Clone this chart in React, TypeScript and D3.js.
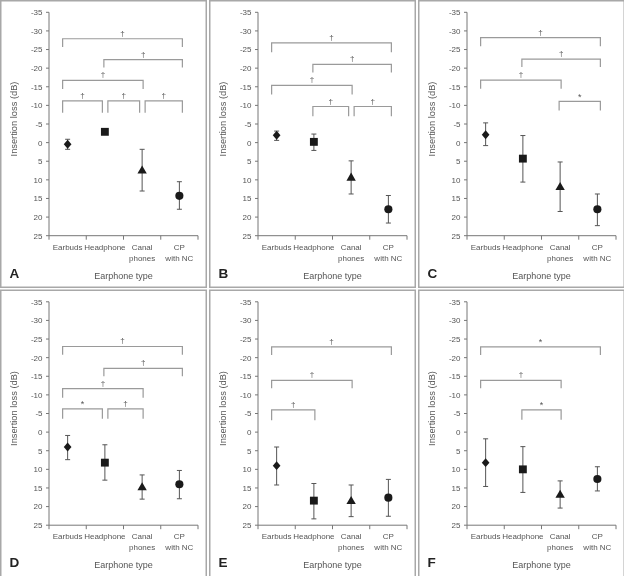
import React from "react";
import * as d3 from "d3";

// ---------- DATA ----------
const categoryLines: string[][] = [["Earbuds"], ["Headphone"], ["Canal", "phones"], ["CP", "with NC"]];
const yTicks = [-35, -30, -25, -20, -15, -10, -5, 0, 5, 10, 15, 20, 25];
const panelLetters = ["A", "B", "C", "D", "E", "F"];
const yTitle = "Insertion loss (dB)";
const xTitle = "Earphone type";

// means, lower and upper whisker ends (dB) for Earbuds, Headphone, Canal phones, CP with NC
const meanA = [0.45, -2.9, 7.6, 14.3];
const lowA = [-0.9, -3.4, 1.8, 10.5];
const highA = [1.8, -2.4, 13.0, 17.9];

const meanB = [-2.0, -0.2, 9.5, 17.9];
const lowB = [-3.1, -2.3, 4.9, 14.2];
const highB = [-0.6, 2.1, 13.8, 21.6];

const meanC = [-2.1, 4.3, 12.0, 17.9];
const lowC = [-5.3, -1.9, 5.2, 13.8];
const highC = [0.8, 10.6, 18.5, 22.3];

const meanD = [4.0, 8.2, 14.9, 14.0];
const lowD = [0.9, 3.4, 11.5, 10.3];
const highD = [7.4, 12.9, 18.0, 17.9];

const meanE = [9.0, 18.4, 18.6, 17.6];
const lowE = [4.0, 13.8, 14.2, 12.7];
const highE = [14.2, 23.3, 22.7, 22.6];

const meanF = [8.2, 10.0, 16.9, 12.6];
const lowF = [1.8, 3.9, 13.1, 9.3];
const highF = [14.6, 16.2, 20.4, 15.8];

type Bracket = { from: number; to: number; y: number; leg: number; mark: string };

const bracketsA: Bracket[] = [
  { from: 0, to: 3, y: -27.9, leg: -25.7, mark: "†" },
  { from: 1, to: 3, y: -22.3, leg: -20.2, mark: "†" },
  { from: 0, to: 2, y: -16.7, leg: -14.4, mark: "†" },
  { from: 0, to: 1, y: -11.2, leg: -8.0, mark: "†" },
  { from: 1, to: 2, y: -11.2, leg: -8.0, mark: "†" },
  { from: 2, to: 3, y: -11.2, leg: -8.0, mark: "†" },
];
const bracketsB: Bracket[] = [
  { from: 0, to: 3, y: -26.8, leg: -24.3, mark: "†" },
  { from: 1, to: 3, y: -21.0, leg: -18.8, mark: "†" },
  { from: 0, to: 2, y: -15.4, leg: -12.9, mark: "†" },
  { from: 1, to: 2, y: -9.7, leg: -7.1, mark: "†" },
  { from: 2, to: 3, y: -9.7, leg: -7.1, mark: "†" },
];
const bracketsC: Bracket[] = [
  { from: 0, to: 3, y: -28.2, leg: -25.9, mark: "†" },
  { from: 1, to: 3, y: -22.4, leg: -20.3, mark: "†" },
  { from: 0, to: 2, y: -16.8, leg: -14.5, mark: "†" },
  { from: 2, to: 3, y: -11.1, leg: -8.6, mark: "*" },
];
const bracketsD: Bracket[] = [
  { from: 0, to: 3, y: -23.0, leg: -20.8, mark: "†" },
  { from: 1, to: 3, y: -17.1, leg: -15.0, mark: "†" },
  { from: 0, to: 2, y: -11.7, leg: -9.2, mark: "†" },
  { from: 0, to: 1, y: -6.25, leg: -3.6, mark: "*" },
  { from: 1, to: 2, y: -6.25, leg: -3.6, mark: "†" },
];
const bracketsE: Bracket[] = [
  { from: 0, to: 3, y: -22.9, leg: -20.7, mark: "†" },
  { from: 0, to: 2, y: -13.9, leg: -11.8, mark: "†" },
  { from: 0, to: 1, y: -6.0, leg: -3.2, mark: "†" },
];
const bracketsF: Bracket[] = [
  { from: 0, to: 3, y: -22.9, leg: -20.7, mark: "*" },
  { from: 0, to: 2, y: -13.9, leg: -11.8, mark: "†" },
  { from: 1, to: 2, y: -6.0, leg: -3.3, mark: "*" },
];

const panels = [
  { mean: meanA, low: lowA, high: highA, brackets: bracketsA },
  { mean: meanB, low: lowB, high: highB, brackets: bracketsB },
  { mean: meanC, low: lowC, high: highC, brackets: bracketsC },
  { mean: meanD, low: lowD, high: highD, brackets: bracketsD },
  { mean: meanE, low: lowE, high: highE, brackets: bracketsE },
  { mean: meanF, low: lowF, high: highF, brackets: bracketsF },
];

// ---------- LAYOUT ----------
const W = 624;
const H = 576;
const colX = [0, 209, 418];
const rowY = [0, 289.5];
const PW = 206;
const PH = 287;
const FONT = "'Liberation Sans', Arial, sans-serif";
const TEXT = "#555";
const AXIS = "#777";
const BRACKET = "#9a9a9a";
const MARK = "#1a1a1a";

const yScale = d3.scaleLinear().domain([-35, 25]).range([12.3, 235.7]);
const xScale = d3.scaleBand<number>().domain([0, 1, 2, 3]).range([49, 198]).padding(0);
const xc = (i: number) => (xScale(i) as number) + xScale.bandwidth() / 2;

const diamondType = {
  draw(ctx: any, size: number) {
    const h = Math.sqrt(size) * 0.62;
    const w = h * 0.86;
    ctx.moveTo(0, -h);
    ctx.lineTo(w, 0);
    ctx.lineTo(0, h);
    ctx.lineTo(-w, 0);
    ctx.closePath();
  },
};
const symbolTypes: any[] = [diamondType, d3.symbolSquare, d3.symbolTriangle, d3.symbolCircle];
const symbolSizes = [52, 62, 38, 52];

function Panel({ idx }: { idx: number }) {
  const p = panels[idx];
  const ox = colX[idx % 3];
  const oy = rowY[Math.floor(idx / 3)];
  const [y0, y1] = yScale.range();
  const bounds = d3.range(5).map((i) => 49 + i * xScale.bandwidth());

  const bracketEls = p.brackets.map((b, k) => {
    const sharedLeft = p.brackets.some((o) => o !== b && o.y === b.y && o.to === b.from);
    const sharedRight = p.brackets.some((o) => o !== b && o.y === b.y && o.from === b.to);
    const x1 = xc(b.from) + (b.from === 0 ? -5 : sharedLeft ? 3 : -1);
    const x2 = xc(b.to) + (b.to === 3 ? 3 : sharedRight ? -2.5 : 1);
    const yl = yScale(b.y);
    const yb = yScale(b.leg);
    return (
      <g key={k}>
        <path
          d={`M${x1},${yb}V${yl}H${x2}V${yb}`}
          fill="none"
          stroke={BRACKET}
          strokeWidth={1.2}
        />
        <text
          x={(x1 + x2) / 2}
          y={yl - (b.mark === "*" ? 1.5 : 3)}
          textAnchor="middle"
          fontSize={b.mark === "*" ? 9 : 8}
          fill={TEXT}
          fontFamily={FONT}
        >
          {b.mark}
        </text>
      </g>
    );
  });

  return (
    <g transform={`translate(${ox},${oy})`}>
      <rect x={0.75} y={0.75} width={PW - 0.5} height={PH - 0.5} fill="#fff" stroke="#a8a8a8" strokeWidth={1.5} />
      {/* y axis */}
      <line x1={49} x2={49} y1={y0} y2={y1} stroke={AXIS} strokeWidth={1} />
      {yTicks.map((t) => (
        <g key={t}>
          <line x1={46} x2={49} y1={yScale(t)} y2={yScale(t)} stroke={AXIS} strokeWidth={1} />
          <text x={42.5} y={yScale(t) + 2.9} textAnchor="end" fontSize={8} fill={TEXT} fontFamily={FONT}>
            {t}
          </text>
        </g>
      ))}
      {/* x axis */}
      <line x1={49} x2={198} y1={y1} y2={y1} stroke={AXIS} strokeWidth={1} />
      {bounds.map((b, i) => (
        <line key={i} x1={b} x2={b} y1={y1} y2={y1 + 4} stroke={AXIS} strokeWidth={1} />
      ))}
      {categoryLines.map((lines, i) =>
        lines.map((ln, j) => (
          <text
            key={`${i}-${j}`}
            x={xc(i)}
            y={249.5 + j * 11}
            textAnchor="middle"
            fontSize={8}
            fill={TEXT}
            fontFamily={FONT}
          >
            {ln}
          </text>
        ))
      )}
      <text x={123.5} y={278.5} textAnchor="middle" fontSize={9} fill={TEXT} fontFamily={FONT}>
        {xTitle}
      </text>
      <text
        transform={`translate(16.5,119) rotate(-90)`}
        textAnchor="middle"
        fontSize={9.3}
        fill={TEXT}
        fontFamily={FONT}
      >
        {yTitle}
      </text>
      <text x={9.5} y={277.5} fontSize={13.5} fontWeight="bold" fill="#222" fontFamily={FONT}>
        {panelLetters[idx]}
      </text>
      {bracketEls}
      {/* error bars */}
      {p.mean.map((m, i) => (
        <g key={i}>
          <path
            d={`M${xc(i)},${yScale(p.low[i])}V${yScale(p.high[i])}M${xc(i) - 2.5},${yScale(p.low[i])}H${xc(i) + 2.5}M${xc(i) - 2.5},${yScale(p.high[i])}H${xc(i) + 2.5}`}
            fill="none"
            stroke="#555"
            strokeWidth={1}
          />
          <path
            d={d3.symbol().type(symbolTypes[i]).size(symbolSizes[i])() as string}
            transform={`translate(${xc(i)},${yScale(m)})`}
            fill={MARK}
          />
        </g>
      ))}
    </g>
  );
}

export default function App() {
  return (
    <svg
      width={W}
      height={H}
      viewBox={`0 0 ${W} ${H}`}
      style={{ position: "absolute", left: 0, top: 0, background: "#fff", filter: "grayscale(1)" }}
    >
      <rect x={0} y={0} width={W} height={H} fill="#fff" />
      {panels.map((_, i) => (
        <Panel key={i} idx={i} />
      ))}
    </svg>
  );
}
